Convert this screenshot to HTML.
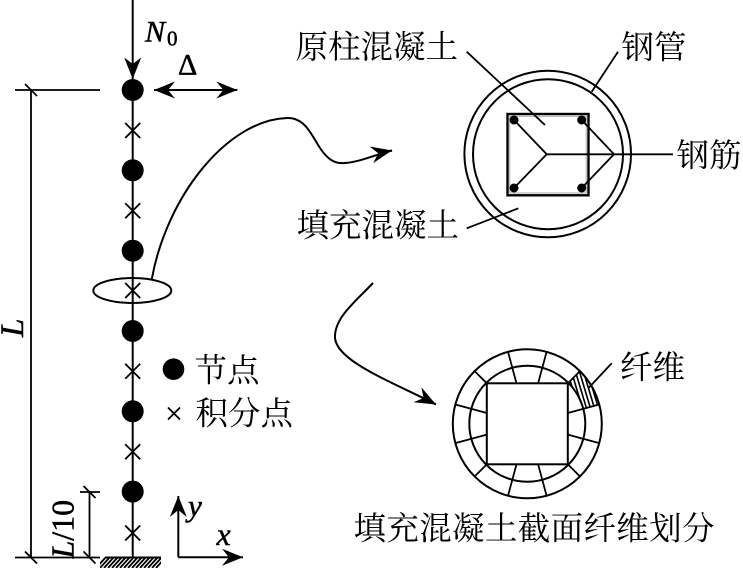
<!DOCTYPE html>
<html><head><meta charset="utf-8"><style>
html,body{margin:0;padding:0;background:#fff;}
svg{display:block;}
.cjk{font-family:"Liberation Serif","Noto Serif CJK SC",serif;font-size:32.5px;fill:#000;}
.lat{font-family:"Liberation Serif",serif;fill:#000;stroke:#000;stroke-width:0.5;}
</style></head><body>
<svg width="743" height="571" viewBox="0 0 743 571" xmlns="http://www.w3.org/2000/svg">
<defs>
<marker id="ah" markerUnits="userSpaceOnUse" markerWidth="24" markerHeight="20" viewBox="-22 -10 24 20" refX="0" refY="0" orient="auto" overflow="visible">
<path d="M0,0 L-21,-8.5 L-14,0 L-21,8.5 Z" fill="#000"/>
</marker>
<marker id="ah2" markerUnits="userSpaceOnUse" markerWidth="24" markerHeight="20" viewBox="-22 -10 24 20" refX="0" refY="0" orient="auto-start-reverse" overflow="visible">
<path d="M0,0 L-21,-8.5 L-14,0 L-21,8.5 Z" fill="#000"/>
</marker>
<clipPath id="cell">
<path d="M568.3,382.8 L580,371.1 A74.5,74.5 0 0 1 599.3,404.5 L583.3,408.8 A58,58 0 0 0 568.3,382.8 Z"/>
</clipPath>
<clipPath id="gnd"><rect x="100" y="557" width="61" height="11"/></clipPath>
</defs>

<g stroke="#000" fill="none" stroke-width="2">
<line x1="132.7" y1="0" x2="132.7" y2="557.5"/>
<ellipse cx="132.3" cy="290.5" rx="39" ry="12.5"/>
<line x1="154" y1="90" x2="237.3" y2="90" marker-start="url(#ah2)" marker-end="url(#ah)"/>
<line x1="31" y1="90" x2="31" y2="557.5" stroke-width="1.8"/>
<line x1="15" y1="90" x2="100" y2="90" stroke-width="1.8"/>
<line x1="15" y1="557.5" x2="100" y2="557.5" stroke-width="1.8"/>
<line x1="25" y1="84" x2="37" y2="96" stroke-width="1.8"/>
<line x1="25" y1="551.5" x2="37" y2="563.5" stroke-width="1.8"/>
<line x1="89.5" y1="492" x2="89.5" y2="557.5" stroke-width="1.8"/>
<line x1="80" y1="492" x2="100" y2="492" stroke-width="1.8"/>
<line x1="83.5" y1="486" x2="95.5" y2="498" stroke-width="1.8"/>
<line x1="83.5" y1="551.5" x2="95.5" y2="563.5" stroke-width="1.8"/>
<path d="M178.3,557.3 V496" marker-end="url(#ah)"/>
<path d="M178.3,557.3 H243" marker-end="url(#ah)"/>
<line x1="105" y1="557.5" x2="161" y2="557.5"/>
<g clip-path="url(#gnd)" stroke-width="1.8">
<line x1="96" y1="568" x2="106" y2="557"/><line x1="100" y1="568" x2="110" y2="557"/>
<line x1="104" y1="568" x2="114" y2="557"/><line x1="108" y1="568" x2="118" y2="557"/>
<line x1="112" y1="568" x2="122" y2="557"/><line x1="116" y1="568" x2="126" y2="557"/>
<line x1="120" y1="568" x2="130" y2="557"/><line x1="124" y1="568" x2="134" y2="557"/>
<line x1="128" y1="568" x2="138" y2="557"/><line x1="132" y1="568" x2="142" y2="557"/>
<line x1="136" y1="568" x2="146" y2="557"/><line x1="140" y1="568" x2="150" y2="557"/>
<line x1="144" y1="568" x2="154" y2="557"/><line x1="148" y1="568" x2="158" y2="557"/>
<line x1="152" y1="568" x2="162" y2="557"/><line x1="156" y1="568" x2="166" y2="557"/>
</g>
<g stroke-width="1.8">
<path d="M125.2,123 L140.2,138 M140.2,123 L125.2,138"/>
<path d="M125.2,203.2 L140.2,218.2 M140.2,203.2 L125.2,218.2"/>
<path d="M125.2,283 L140.2,298 M140.2,283 L125.2,298"/>
<path d="M125.2,363.8 L140.2,378.8 M140.2,363.8 L125.2,378.8"/>
<path d="M125.2,444.2 L140.2,459.2 M140.2,444.2 L125.2,459.2"/>
<path d="M125.2,525.5 L140.2,540.5 M140.2,525.5 L125.2,540.5"/>
<path d="M168,407.5 L180,419.5 M180,407.5 L168,419.5"/>
</g>
<path d="M151.7,279.5 C167,195 228,120 287,118 C305,117 312,136 320,148 C328,160 335,164 345,163 C360,162 374,155 392,150.5"/>
<path d="M380,153 L392,150.5" marker-end="url(#ah)"/>
<path d="M373,283 C355,302 334,318 335,338 C337,362 395,383 436,404.5" marker-end="url(#ah)"/>

<circle cx="547.7" cy="154" r="83.3"/>
<circle cx="548" cy="154.2" r="75"/>
<rect x="507.5" y="114" width="81" height="81.3" stroke-width="2.4"/>
<rect x="509.8" y="116.3" width="76.4" height="76.7" stroke="#aaa" stroke-width="1"/>
<g stroke-width="1.8">
<line x1="514" y1="120" x2="546.7" y2="154.3"/>
<line x1="514" y1="188" x2="546.7" y2="154.3"/>
<line x1="581.7" y1="120" x2="614" y2="154.3"/>
<line x1="581.7" y1="188" x2="614" y2="154.3"/>
<line x1="546.7" y1="154.3" x2="673" y2="154.3"/>
<line x1="466.7" y1="51.7" x2="545" y2="125"/>
<line x1="618" y1="51.7" x2="591.7" y2="91.7"/>
<line x1="466.7" y1="228.3" x2="518.3" y2="208.3"/>
</g>

<circle cx="527.3" cy="423.8" r="74.5"/>
<circle cx="527.3" cy="423.8" r="58"/>
<rect x="486.8" y="383.3" width="81" height="81"/>
<g stroke-width="1.8">
<line x1="599.3" y1="404.5" x2="567.8" y2="413"/>
<line x1="599.3" y1="443.1" x2="567.8" y2="434.6"/>
<line x1="455.3" y1="404.5" x2="486.8" y2="413"/>
<line x1="455.3" y1="443.1" x2="486.8" y2="434.6"/>
<line x1="508" y1="351.8" x2="516.5" y2="383.3"/>
<line x1="546.6" y1="351.8" x2="538.1" y2="383.3"/>
<line x1="508" y1="495.8" x2="516.5" y2="464.3"/>
<line x1="546.6" y1="495.8" x2="538.1" y2="464.3"/>
<line x1="580" y1="371.1" x2="567.8" y2="383.3"/>
<line x1="580" y1="476.5" x2="567.8" y2="464.3"/>
<line x1="474.6" y1="371.1" x2="486.8" y2="383.3"/>
<line x1="474.6" y1="476.5" x2="486.8" y2="464.3"/>
<line x1="611.7" y1="363.3" x2="588.3" y2="388.3"/>
</g>
<g clip-path="url(#cell)" stroke-width="1.6">
<line x1="556" y1="360" x2="571" y2="410"/>
<line x1="560" y1="360" x2="575" y2="410"/>
<line x1="564" y1="360" x2="579" y2="410"/>
<line x1="568" y1="360" x2="583" y2="410"/>
<line x1="572" y1="360" x2="587" y2="410"/>
<line x1="576" y1="360" x2="591" y2="410"/>
<line x1="580" y1="360" x2="595" y2="410"/>
<line x1="584" y1="360" x2="599" y2="410"/>
<line x1="588" y1="360" x2="603" y2="410"/>
<line x1="592" y1="360" x2="607" y2="410"/>
<line x1="596" y1="360" x2="611" y2="410"/>
</g>
</g>

<g fill="#000">
<polygon points="132.7,79 124.2,57.5 132.7,64 141.2,57.5"/>
<circle cx="132.7" cy="90" r="11"/>
<circle cx="132.7" cy="170.3" r="11"/>
<circle cx="132.7" cy="250.7" r="11"/>
<circle cx="132.7" cy="331" r="11"/>
<circle cx="132.7" cy="411.3" r="11"/>
<circle cx="132.7" cy="491.6" r="11"/>
<circle cx="173.5" cy="369.2" r="10.8"/>
<circle cx="514" cy="120" r="4.5"/>
<circle cx="581.7" cy="120" r="4.5"/>
<circle cx="514" cy="188" r="4.5"/>
<circle cx="581.7" cy="188" r="4.5"/>
</g>

<text class="lat" x="145" y="41.7" font-size="30" font-style="italic">N</text>
<text class="lat" x="167" y="45.5" font-size="21">0</text>
<text class="lat" x="178" y="74.5" font-size="30">Δ</text>
<text class="lat" font-size="33" font-style="italic" transform="translate(23,337) rotate(-90)">L</text>
<text class="lat" font-size="32" transform="translate(73.3,558.5) rotate(-90)"><tspan font-style="italic">L</tspan>/10</text>
<text class="lat" x="188" y="516" font-size="31" font-style="italic">y</text>
<text class="lat" x="216.5" y="545" font-size="32" font-style="italic">x</text>

<text class="cjk" x="295.5" y="58">原柱混凝土</text>
<text class="cjk" x="621.5" y="58.4">钢管</text>
<text class="cjk" x="676.5" y="166.4">钢筋</text>
<text class="cjk" x="296.5" y="236.4">填充混凝土</text>
<text class="cjk" x="194.5" y="381.4">节点</text>
<text class="cjk" x="195.5" y="424.4">积分点</text>
<text class="cjk" x="620" y="378.4">纤维</text>
<text class="cjk" x="353.5" y="539.4" textLength="361" lengthAdjust="spacing">填充混凝土截面纤维划分</text>
</svg>
</body></html>
